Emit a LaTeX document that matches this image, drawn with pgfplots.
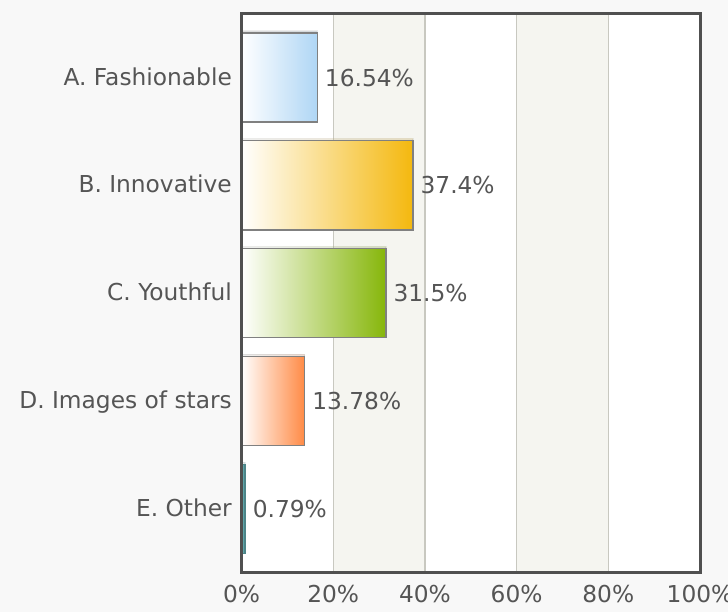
\documentclass[border=0pt]{standalone}
\usepackage{fontspec}
\setmainfont{DejaVu Sans}
\usepackage{pgfplots}
\pgfplotsset{compat=1.18}
\usetikzlibrary{shadows}
\definecolor{bggray}{HTML}{F8F8F8}
\definecolor{band}{HTML}{F5F5F0}
\definecolor{gridc}{HTML}{C8C8C0}
\definecolor{framec}{HTML}{505050}
\definecolor{txt}{HTML}{555555}
\definecolor{barb}{HTML}{808080}
\definecolor{cA}{HTML}{AFD6F5}
\definecolor{cB}{HTML}{F4B80E}
\definecolor{cC}{HTML}{86B60A}
\definecolor{cD}{HTML}{FF8A45}
\definecolor{cE}{HTML}{5FA6AA}
\begin{document}
\begin{tikzpicture}[x=1pt,y=1pt]
\useasboundingbox (0,0) rectangle (728,612);
\fill[bggray] (0,0) rectangle (728,612);
\fill[white] (241.5,39.3) rectangle (700,598.6);
\fill[band] (333.2,39.3) rectangle (424.9,598.6);
\fill[band] (516.6,39.3) rectangle (608.3,598.6);
\begin{axis}[
  at={(241.5pt,39.3pt)}, anchor=south west,
  scale only axis, width=458.5pt, height=559.3pt,
  xmin=0, xmax=100, ymin=-0.595, ymax=4.593,
  y dir=reverse,
  xbar, bar width=0.826, bar shift=0pt,
  ytick={0,1,2,3,4},
  yticklabels={A. Fashionable, B. Innovative, C. Youthful, D. Images of stars, E. Other},
  xtick={0,20,40,60,80,100},
  xticklabels={0\%,20\%,40\%,60\%,80\%,100\%},
  xmajorgrids, grid style={color=gridc, line width=1.2pt},
  axis line style={draw=none},
  major tick length=0pt,
  tick style={draw=none},
  tick label style={font=\fontsize{23.3}{28}\selectfont, text=txt},
  yticklabel style={anchor=base east, inner sep=0pt, xshift=-9.5pt, yshift=-7.5pt},
  xticklabel style={anchor=base, inner sep=0pt, yshift=-29.5pt},
  nodes near coords style={font=\fontsize{23.3}{28}\selectfont, text=txt, anchor=base west, inner sep=0pt, xshift=7pt, yshift=-8.5pt},
  every axis plot/.append style={draw=barb, line width=1.3pt, bar shift=0pt,
    drop shadow={shadow xshift=0pt, shadow yshift=2pt, opacity=0.15}},
]
\addplot[left color=white, right color=cA, nodes near coords={16.54\%}] coordinates {(16.54,0)};
\addplot[left color=white, right color=cB, nodes near coords={37.4\%}] coordinates {(37.4,1)};
\addplot[left color=white, right color=cC, nodes near coords={31.5\%}] coordinates {(31.5,2)};
\addplot[left color=white, right color=cD, nodes near coords={13.78\%}] coordinates {(13.78,3)};
\addplot[fill=cE, draw=cE!80!black, nodes near coords={0.79\%}] coordinates {(0.79,4)};
\end{axis}
\draw[framec, line width=3pt] (241.5,39.3) rectangle (700,598.6);
\end{tikzpicture}
\end{document}
